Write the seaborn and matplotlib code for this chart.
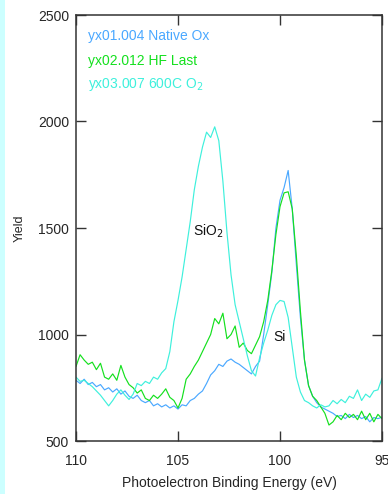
import numpy as np
import pandas as pd
import matplotlib
matplotlib.use("Agg")
import matplotlib.pyplot as plt
import seaborn as sns
from matplotlib.patches import Rectangle

# Binding energy grid (eV), 110 -> 95 in 0.2 eV steps
energy = np.round(np.linspace(110.0, 95.0, 76), 1)

native_ox = [785, 770, 790, 765, 775, 755, 765, 740, 750, 730,
             745, 720, 735, 710, 700, 715, 690, 680, 690, 665,
             675, 660, 670, 655, 665, 650, 670, 665, 690, 700,
             720, 735, 770, 810, 830, 860, 850, 875, 885, 870,
             860, 845, 830, 815, 850, 875, 1000, 1140, 1290, 1500,
             1630, 1690, 1770, 1590, 1330, 1080, 880, 760, 710, 680,
             660, 650, 640, 630, 615, 620, 605, 625, 610, 620,
             605, 615, 590, 610, 605, 612]

hf_last = [850, 905, 880, 860, 870, 835, 865, 800, 790, 815,
           785, 855, 800, 765, 750, 725, 740, 700, 690, 715,
           700, 720, 745, 705, 690, 655, 700, 790, 815, 850,
           880, 920, 960, 1000, 1075, 1050, 1100, 980, 1000, 1040,
           940, 960, 925, 910, 950, 990, 1060, 1160, 1300, 1470,
           1600, 1665, 1670, 1590, 1370, 1110, 880, 760, 710, 690,
           660, 630, 575, 590, 620, 600, 630, 610, 625, 600,
           640, 600, 630, 590, 625, 605]

o2_600c = [800, 780, 785, 770, 755, 735, 715, 690, 665, 690,
           720, 740, 715, 695, 720, 770, 760, 780, 770, 800,
           790, 820, 840, 920, 1060, 1160, 1270, 1400, 1530, 1680,
           1790, 1880, 1950, 1925, 1975, 1910, 1720, 1480, 1280, 1140,
           1060, 980, 900, 830, 805, 890, 960, 1020, 1090, 1140,
           1160, 1155, 1080, 940, 800, 730, 690, 680, 665, 655,
           670, 660, 665, 690, 675, 695, 680, 710, 700, 740,
           690, 720, 705, 735, 740, 795]

series_names = ["yx01.004 Native Ox", "yx02.012 HF Last", "yx03.007 600C O$_2$"]
series_colors = ["#4aa8ff", "#14e01e", "#3ef0dc"]

df = pd.concat([
    pd.DataFrame({"Energy": energy, "Yield": vals, "Sample": name})
    for name, vals in zip(series_names, [native_ox, hf_last, o2_600c])
], ignore_index=True)

sns.set_style("ticks")
plt.rcParams["font.family"] = ["Liberation Sans", "DejaVu Sans"]

fig = plt.figure(figsize=(3.88, 4.94), dpi=100)
ax = fig.add_axes([76 / 388, 53 / 494, 306 / 388, 426 / 494])

# light cyan strip on the left edge of the page
fig.patches.append(Rectangle((0, 0), 5 / 388, 1, transform=fig.transFigure,
                             facecolor="#ccffff", edgecolor="none", zorder=0))

sns.lineplot(data=df, x="Energy", y="Yield", hue="Sample",
             palette=dict(zip(series_names, series_colors)),
             linewidth=0.85, legend=False, ax=ax, sort=False)

ax.set_xlim(110, 95)
ax.set_ylim(500, 2500)
ax.set_xticks([110, 105, 100, 95])
ax.set_yticks([500, 1000, 1500, 2000, 2500])
ax.tick_params(direction="in", length=7, width=1.0, color="#333333",
               top=True, right=True, labelsize=10, pad=9, axis="x")
ax.tick_params(direction="in", length=7, width=1.0, color="#333333",
               top=True, right=True, labelsize=10, pad=5, axis="y")
for s in ax.spines.values():
    s.set_color("#333333")
    s.set_linewidth(1.1)

ax.set_xlabel("Photoelectron Binding Energy (eV)", fontsize=10, labelpad=6)
ax.set_ylabel("Yield", fontsize=9)
ax.yaxis.set_label_coords(-0.165, 0.5)

# sample labels in their line colours
for i, (name, col) in enumerate(zip(series_names, series_colors)):
    ax.text(0.039, [0.950, 0.892, 0.838][i], name, color=col, fontsize=10,
            transform=ax.transAxes, va="center", ha="left")

ax.text(103.53, 1486, "SiO$_2$", fontsize=10, ha="center", va="center", color="#111111")
ax.text(100.0, 988, "Si", fontsize=10, ha="center", va="center", color="#111111")

fig.savefig("out.png", dpi=100)
